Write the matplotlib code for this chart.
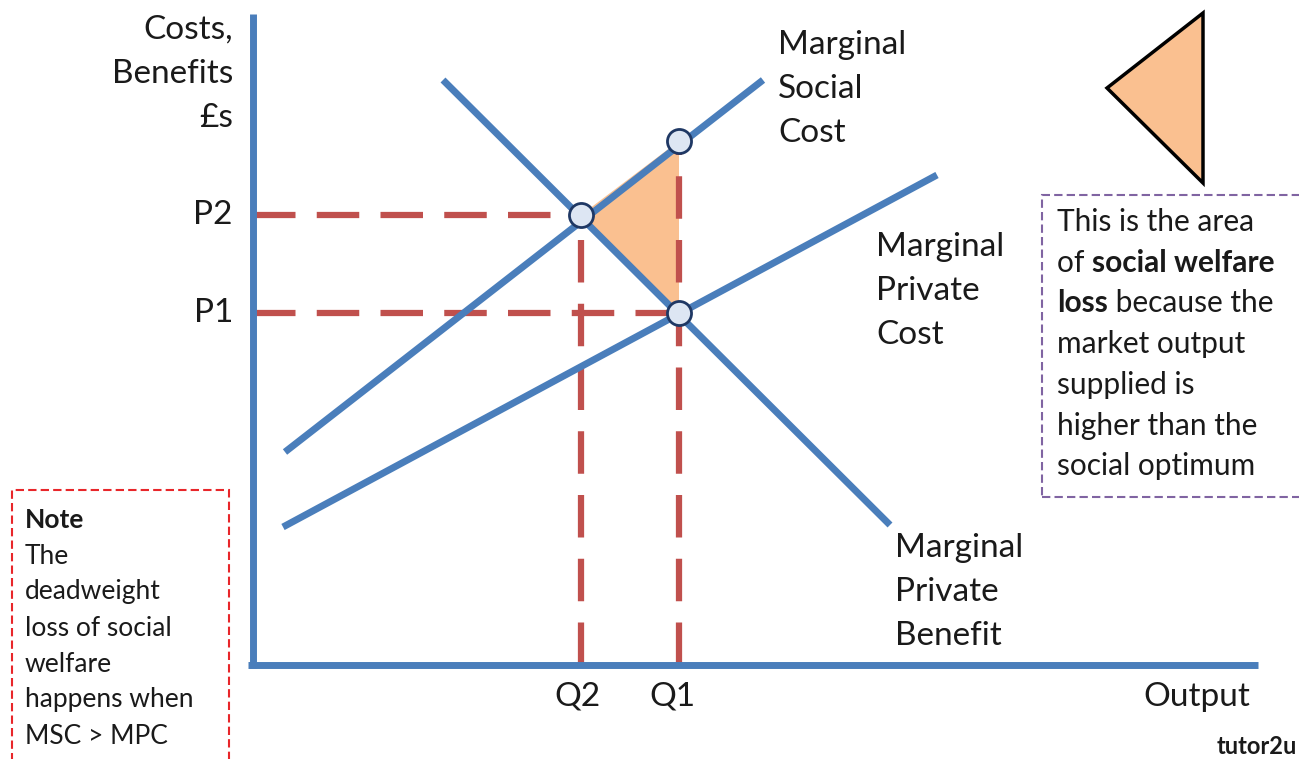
import numpy as np
import matplotlib
matplotlib.use("Agg")
import matplotlib.pyplot as plt
from matplotlib.patches import Polygon, Rectangle

plt.rcParams['font.family'] = ['Lato', 'DejaVu Sans']

# curves (quantity, price), origin at the axis corner
msc_q = [32, 510]
msc_p = [213, 585]
mpc_q = [30, 684]
mpc_p = [138, 490]
mpb_q = [190, 637]
mpb_p = [585, 140]

q2, q1 = 328, 426
p2, p1 = 450, 352
p_msc_q1 = 524

pts_q = [q2, q1, q1]
pts_p = [p2, p1, p_msc_q1]

# welfare loss triangle
loss_q = [q2, q1, q1]
loss_p = [p2, p_msc_q1, p1]

# key triangle (top right)
key_q = [854, 950, 950]
key_p = [577, 652, 482]

blue = '#4a7ebb'
red = '#c0504d'
orange = '#fac090'
txt = '#1a1a1a'

fig = plt.figure(figsize=(12.99, 7.59), dpi=100)
ax = fig.add_axes([0, 0, 1, 1])
ax.set_xlim(-253, 1046)
ax.set_ylim(-94, 665)
ax.axis('off')

# axes of the diagram
ax.plot([0, 0], [-3, 651], color=blue, lw=5, solid_capstyle='butt', zorder=3)
ax.plot([-5, 1005], [0, 0], color=blue, lw=5, solid_capstyle='butt', zorder=3)

# welfare loss area
ax.add_patch(Polygon(np.column_stack([loss_q, loss_p]), closed=True,
                     facecolor=orange, edgecolor='none', zorder=1))

# dashed guides
dash = (0, (6.8, 3.4))
ax.plot([0, q2], [p2, p2], color=red, lw=4.5, ls=dash, zorder=2)
ax.plot([0, q1], [p1, p1], color=red, lw=4.5, ls=dash, zorder=2)
ax.plot([q2, q2], [0, p2], color=red, lw=4.5, ls=dash, zorder=2)
ax.plot([q1, q1], [0, p_msc_q1], color=red, lw=4.5, ls=dash, zorder=2)

# curves
for qq, pp in [(msc_q, msc_p), (mpc_q, mpc_p), (mpb_q, mpb_p)]:
    ax.plot(qq, pp, color=blue, lw=5, solid_capstyle='butt', zorder=4)

ax.scatter(pts_q, pts_p, s=300, facecolor='#dde6f3', edgecolor='#1f3864',
           linewidth=2, zorder=5)

# axis labels
fs = 24
for i, s in enumerate(['Costs,', 'Benefits', '£s']):
    ax.text(-20, 635 - i * 44, s, ha='right', va='center', fontsize=fs, color=txt)
ax.text(-20, p2, 'P2', ha='right', va='center', fontsize=fs, color=txt)
ax.text(-20, p1, 'P1', ha='right', va='center', fontsize=fs, color=txt)
ax.text(324, -32, 'Q2', ha='center', va='center', fontsize=fs, color=txt)
ax.text(419, -32, 'Q1', ha='center', va='center', fontsize=fs, color=txt)
ax.text(944, -32, 'Output', ha='center', va='center', fontsize=fs, color=txt)

# curve labels
for x0, y0, lines in [(525, 620, ['Marginal', 'Social', 'Cost']),
                      (623, 418, ['Marginal', 'Private', 'Cost']),
                      (642, 117, ['Marginal', 'Private', 'Benefit'])]:
    for i, s in enumerate(lines):
        ax.text(x0, y0 - i * 44, s, ha='left', va='center', fontsize=fs, color=txt)

# key triangle
ax.add_patch(Polygon(np.column_stack([key_q, key_p]), closed=True,
                     facecolor=orange, edgecolor='black', lw=2.5, zorder=3))

# right explanation box
ax.add_patch(Rectangle((789, 168), 300, 302, fill=False, edgecolor='#8064a2',
                       lw=1.5, ls=(0, (4, 2)), clip_on=False))
fs2 = 21.5
y0, dy = 443, 40.7
ax.text(804, y0, 'This is the area', ha='left', va='center', fontsize=fs2, color=txt)
t = ax.text(804, y0 - dy, 'of ', ha='left', va='center', fontsize=fs2, color=txt)
ax.annotate('social welfare', xy=(1, 0), xycoords=t, va='bottom', ha='left',
            fontsize=fs2, fontweight='bold', color=txt)
t = ax.text(804, y0 - 2 * dy, 'loss', ha='left', va='center', fontsize=fs2,
            fontweight='bold', color=txt)
ax.annotate(' because the', xy=(1, 0), xycoords=t, va='bottom', ha='left',
            fontsize=fs2, color=txt)
for i, s in enumerate(['market output', 'supplied is', 'higher than the',
                       'social optimum']):
    ax.text(804, y0 - (i + 3) * dy, s, ha='left', va='center', fontsize=fs2, color=txt)

# note box
ax.add_patch(Rectangle((-241, -110), 217, 285, fill=False, edgecolor='#e8262a',
                       lw=1.5, ls=(0, (4, 2)), clip_on=False))
fs3 = 19
note = ['Note', 'The', 'deadweight', 'loss of social', 'welfare',
        'happens when', 'MSC > MPC']
for i, s in enumerate(note):
    ax.text(-228, 145 - i * 36, s, ha='left', va='center', fontsize=fs3,
            fontweight='bold' if i == 0 else 'normal', color=txt)

# logo in the bottom right corner
ax.text(1044, -93, 'tutor2u', ha='right', va='bottom', fontsize=17,
        fontweight='bold', color=txt)

fig.savefig('out.png', dpi=100)
